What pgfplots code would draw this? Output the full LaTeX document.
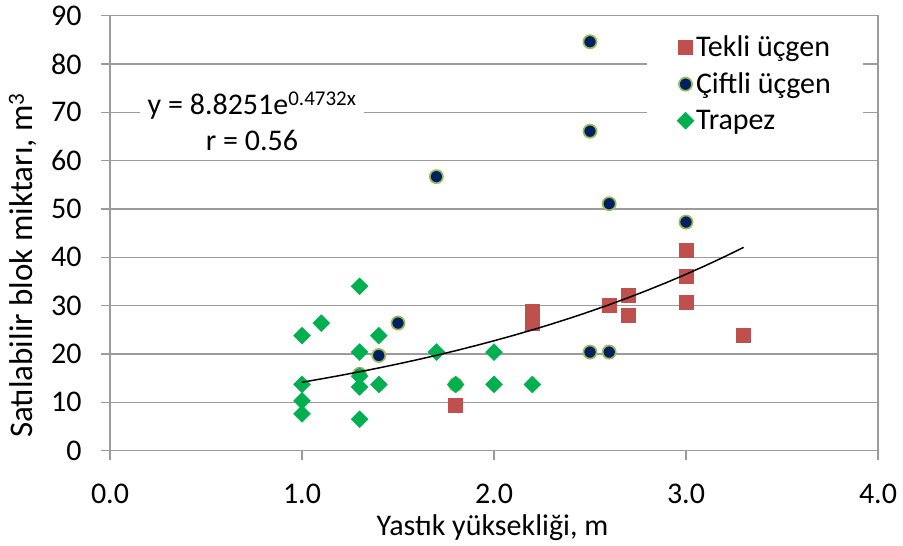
\documentclass[border=0pt]{standalone}
\usepackage{fontspec}
\setmainfont{Carlito}
\usepackage{pgfplots}
\pgfplotsset{compat=1.18}
\definecolor{redsq}{RGB}{192,80,77}
\definecolor{navyc}{RGB}{0,32,96}
\definecolor{lgreen}{RGB}{155,187,89}
\definecolor{dgreen}{RGB}{0,176,80}
\definecolor{gridc}{RGB}{155,155,155}
\begin{document}
\begin{tikzpicture}[font=\fontsize{30}{36}\selectfont]
\begin{axis}[
  scale only axis, width=768pt, height=435pt,
  xmin=0, xmax=4, ymin=0, ymax=90,
  clip mode=individual,
  xtick={0,1,2,3,4}, xticklabels={0.0,1.0,2.0,3.0,4.0},
  ytick={0,10,20,30,40,50,60,70,80,90},
  yticklabels={0,10,20,30,40,50,60,70,80,90},
  ymajorgrids, major grid style={draw=gridc, line width=1.3pt},
  axis line style={draw=gridc, line width=1.3pt},
  tick style={draw=gridc, line width=1.3pt},
  tick align=outside, major tick length=9pt, tick pos=left,
  xticklabel style={yshift=-21pt},
  yticklabel style={xshift=-16pt},
  legend style={at={(axis description cs:0.699,0.966)}, anchor=north west,
    draw=none, fill=white, inner xsep=30pt, inner ysep=4pt, row sep=13pt,
    nodes={inner ysep=1pt}, font=\fontsize{30}{36}\selectfont},
  legend cell align=left,
]
\addplot[only marks, mark=square*, mark size=7pt, color=redsq] coordinates {
(1.8,9.5) (2.2,28.8) (2.2,26.4) (2.6,30.2) (2.7,32.2) (2.7,28.0)
(3.0,41.5) (3.0,36.0) (3.0,30.7) (3.3,23.8)};
\addlegendentry{Tekli üçgen}
\addplot[only marks, mark=*, mark size=6.6pt, color=lgreen,
  mark options={fill=navyc, draw=lgreen, line width=1.7pt}] coordinates {
(1.3,15.8) (1.4,19.7) (1.5,26.4) (1.7,56.7) (1.8,13.7) (2.5,84.6)
(2.5,66.1) (2.5,20.4) (2.6,51.1) (2.6,20.4) (3.0,47.3)};
\addlegendentry{Çiftli üçgen}
\addplot[only marks, mark=square*, mark size=6pt, color=dgreen,
  mark options={rotate=45}] coordinates {
(1.0,23.8) (1.0,13.7) (1.0,10.3) (1.0,7.6) (1.1,26.4) (1.3,34.0)
(1.3,20.4) (1.3,15.4) (1.3,13.2) (1.3,6.5) (1.4,23.8) (1.4,13.7)
(1.7,20.4) (1.8,13.7) (2.0,20.4) (2.0,13.7) (2.2,13.7)};
\addlegendentry{Trapez}
\addplot[black, line width=1.5pt, forget plot] coordinates {
(1.0,14.166) (1.1,14.852) (1.2,15.572) (1.3,16.327) (1.4,17.118)
(1.5,17.948) (1.6,18.817) (1.7,19.729) (1.8,20.685) (1.9,21.688)
(2.0,22.739) (2.1,23.841) (2.2,24.996) (2.3,26.207) (2.4,27.477)
(2.5,28.809) (2.6,30.205) (2.7,31.669) (2.8,33.203) (2.9,34.812)
(3.0,36.499) (3.1,38.268) (3.2,40.122) (3.3,42.066)};
\node[fill=white, align=center, inner xsep=8pt, inner ysep=2pt]
  at (axis description cs:0.185,0.757)
  {y = 8.8251e\textsuperscript{0.4732x}\\ r = 0.56};
\node[rotate=90, anchor=base, font=\fontsize{33}{40}\selectfont]
  at (axis description cs:-0.1003,0.426)
  {Satılabilir blok miktarı, m\textsuperscript{3}};
\node[anchor=base] at (axis description cs:0.498,-0.194)
  {Yastık yüksekliği, m};
\coordinate (bl) at (axis description cs:0,0);
\coordinate (tr) at (axis description cs:1,1);
\end{axis}
\pgfresetboundingbox
\path ([xshift=-110pt,yshift=-95.3pt]bl) rectangle ([xshift=25pt,yshift=15.7pt]tr);
\end{tikzpicture}
\end{document}
